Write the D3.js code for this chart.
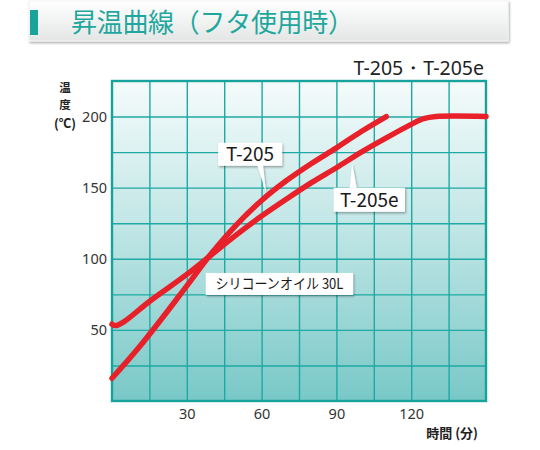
<!DOCTYPE html>
<html><head><meta charset="utf-8">
<script src="https://cdn.jsdelivr.net/npm/d3@7/dist/d3.min.js"></script>
<style>
html,body{margin:0;padding:0;background:#fff;}
svg{display:block;font-family:"Noto Sans CJK JP","Noto Sans",sans-serif;}
</style></head>
<body>
<svg id="c" width="540" height="450"></svg>
<script>
// ---- data ----
const title = "昇温曲線（フタ使用時）";
const modelLabel = "T-205・T-205e";
const yTitle = ["温", "度", "(℃)"];
const xTitle = "時間 (分)";
const xTickValues = [30, 60, 90, 120];
const yTickValues = [50, 100, 150, 200];
const t205Time = [0, 10, 20, 30, 40, 50, 60, 70, 80, 90, 100, 110];
const t205Temp = [16, 36, 58, 81, 104, 124, 141, 155, 167, 178, 189.5, 200];
const t205eTime = [0, 1.5, 5, 15, 30, 40, 50, 60, 70, 80, 90, 100, 110, 120, 125, 130, 150];
const t205eTemp = [54, 53, 56, 70, 89, 103, 117, 130, 142, 153.5, 164, 175, 185, 194.5, 198.5, 200, 200];
const seriesNames = ["T-205", "T-205e"];
const oilLabel = "シリコーンオイル 30L";

const svg = d3.select("#c");
const defs = svg.append("defs");

// ---- header ----
const hg = defs.append("linearGradient").attr("id","hg").attr("x1",0).attr("y1",0).attr("x2",0).attr("y2",1);
hg.append("stop").attr("offset","0%").attr("stop-color","#ffffff");
hg.append("stop").attr("offset","100%").attr("stop-color","#e4e6e6");
const sh = defs.append("filter").attr("id","sh").attr("x","-10%").attr("y","-20%").attr("width","130%").attr("height","160%");
sh.append("feDropShadow").attr("dx",1).attr("dy",1.5).attr("stdDeviation",1.2).attr("flood-color","#000").attr("flood-opacity",0.35);

svg.append("rect").attr("x",29).attr("y",1).attr("width",479).attr("height",40)
  .attr("fill","url(#hg)").attr("stroke","#f4f4f4").attr("stroke-width",1).attr("filter","url(#sh)");
svg.append("rect").attr("x",30).attr("y",10).attr("width",8).attr("height",25).attr("fill","#1aa39b");
svg.append("text").attr("x",71).attr("y",32).attr("font-size",26).attr("fill","#1fa79e")
  .attr("textLength",283).text(title);

// ---- plot ----
const x = d3.scaleLinear().domain([0,150]).range([112,486]);
const y = d3.scaleLinear().domain([0,225]).range([401,81]);

const pg = defs.append("linearGradient").attr("id","pg").attr("x1",0).attr("y1",0).attr("x2",0).attr("y2",1);
pg.append("stop").attr("offset","0%").attr("stop-color","#f5fbfb");
pg.append("stop").attr("offset","45%").attr("stop-color","#c2e6e6");
pg.append("stop").attr("offset","100%").attr("stop-color","#78c8c7");

svg.append("rect").attr("x",x(0)).attr("y",y(225)).attr("width",x(150)-x(0)).attr("height",y(0)-y(225))
  .attr("fill","url(#pg)");

const gridColor = "#1ea9a2";
svg.append("g").attr("transform",`translate(0,${y(0)})`)
  .call(d3.axisBottom(x).tickValues(d3.range(15,150,15)).tickSize(-(y(0)-y(225))).tickFormat(""))
  .call(g=>g.select(".domain").remove())
  .call(g=>g.selectAll("line").attr("stroke",gridColor).attr("stroke-width",1.4));
svg.append("g").attr("transform",`translate(${x(0)},0)`)
  .call(d3.axisLeft(y).tickValues(d3.range(25,225,25)).tickSize(-(x(150)-x(0))).tickFormat(""))
  .call(g=>g.select(".domain").remove())
  .call(g=>g.selectAll("line").attr("stroke",gridColor).attr("stroke-width",1.4));
svg.append("rect").attr("x",x(0)).attr("y",y(225)).attr("width",x(150)-x(0)).attr("height",y(0)-y(225))
  .attr("fill","none").attr("stroke","#17a29b").attr("stroke-width",2.4);

// ---- axis labels ----
svg.append("g").attr("transform",`translate(${x(0)-5},0)`)
  .call(d3.axisLeft(y).tickValues(yTickValues).tickSize(0).tickPadding(0))
  .call(g=>g.select(".domain").remove())
  .call(g=>g.selectAll("text").attr("font-size",14.5).attr("fill","#333").attr("font-family","'Noto Sans','Liberation Sans',sans-serif"));
svg.append("g").attr("transform",`translate(0,${y(0)+8})`)
  .call(d3.axisBottom(x).tickValues(xTickValues).tickSize(0).tickPadding(0))
  .call(g=>g.select(".domain").remove())
  .call(g=>g.selectAll("text").attr("font-size",14.5).attr("fill","#333").attr("font-family","'Noto Sans','Liberation Sans',sans-serif"));

svg.append("g").selectAll("text").data(yTitle).join("text")
  .attr("x",65).attr("y",(d,i)=>[92,109,127.5][i]).attr("text-anchor","middle")
  .attr("font-size",(d,i)=>i<2?11.5:12.5).attr("fill","#222").attr("font-weight","bold").text(d=>d);
svg.append("text").attr("x",478).attr("y",438).attr("text-anchor","end").attr("font-size",13)
  .attr("font-weight","bold").attr("fill","#222").text(xTitle);
svg.append("text").attr("x",484).attr("y",75).attr("text-anchor","end").attr("font-size",19.5)
  .attr("fill","#222").attr("font-family","'Noto Sans','Liberation Sans',sans-serif").text(modelLabel);

// ---- label boxes ----
function labelBox(cx, cy, w, h, txt, fs, ptr, tl){
  const g = svg.append("g").attr("filter","url(#sh)");
  if(ptr){
    g.append("path").attr("d",`M${ptr[0]},${ptr[1]} L${ptr[2]},${ptr[3]} L${ptr[4]},${ptr[5]} Z`).attr("fill","#fff");
  }
  g.append("rect").attr("x",cx-w/2).attr("y",cy-h/2).attr("width",w).attr("height",h).attr("fill","#fff");
  const t = svg.append("text").attr("x",cx).attr("y",cy+fs*0.36).attr("text-anchor","middle").attr("font-size",fs)
    .attr("fill","#1a1a1a").attr("font-family","'Noto Sans CJK JP','Noto Sans',sans-serif").text(txt);
  if(tl) t.attr("textLength",tl).attr("lengthAdjust","spacingAndGlyphs");
}

// ---- series ----
const line = d3.line().x(d=>x(d[0])).y(d=>y(d[1])).curve(d3.curveCatmullRom.alpha(0.5));
const s1 = t205Time.map((t,i)=>[t,t205Temp[i]]);
const s2 = t205eTime.map((t,i)=>[t,t205eTemp[i]]);

labelBox((x(37.6)+x(96.7))/2, y(82.3), x(96.7)-x(37.6), 22, oilLabel, 14.5, null, 128);

{
  const cx = x(55.4), cy = y(173.5);
  labelBox(cx, cy, 64, 23, seriesNames[0], 19,
    [x(58.2), cy+10, x(61.8), y(146), x(60.5), cy+10]);
}
{
  const cx = x(103.2), cy = y(141.5);
  labelBox(cx, cy, x(117.5)-x(88.9), 24, seriesNames[1], 19,
    [x(95.3), cy-10, x(96.3), y(167), x(98.3), cy-10]);
}

svg.append("g").selectAll("path").data([s1,s2]).join("path")
  .attr("d",line).attr("fill","none").attr("stroke","#e8202a").attr("stroke-width",5.5)
  .attr("stroke-linecap","round").attr("stroke-linejoin","round");
</script>
</body></html>
